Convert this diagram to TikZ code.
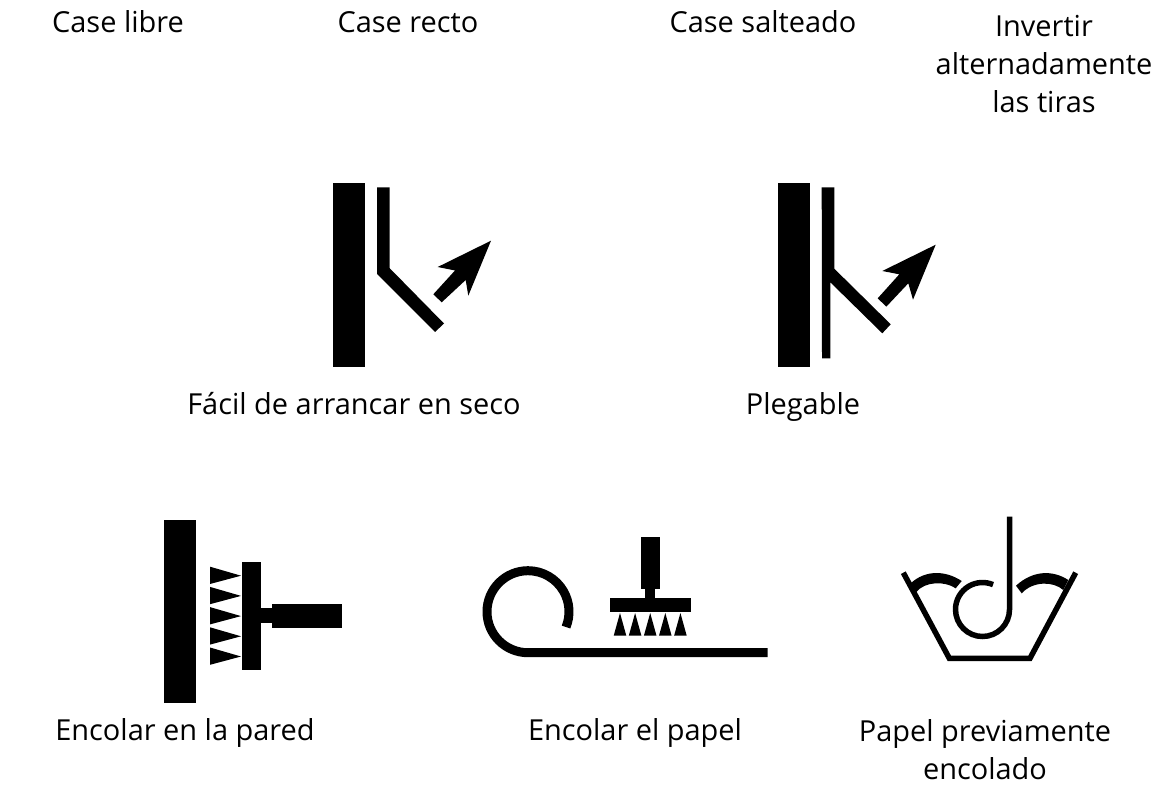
\documentclass[tikz,border=0pt]{standalone}
\usepackage{fontspec}
\setmainfont{Open Sans}
\usetikzlibrary{positioning}
\tikzset{
  caption/.style={anchor=base,inner sep=0pt,align=center,font=\fontsize{21.7}{28.5}\selectfont},
  solid black/.style={fill=black,draw=none},
  stroke/.style={draw=black,fill=none,line width=#1*0.75pt,line cap=butt,line join=miter}
}
\begin{document}
\begin{tikzpicture}[x=1pt,y=1pt,xscale=.75,yscale=-.75]
\useasboundingbox (0,0) rectangle (1156,787);
\node[caption] (libre) at (118,33) {Case libre};
\node[caption] (recto) at (408,33) {Case recto};
\node[caption] (salteado) at (763,33) {Case salteado};
\node[caption] (invertir) at (1044,113) {Invertir\\alternadamente\\las tiras};
\node[caption] (seco) at (354,415) {Fácil de arrancar en seco};
\node[caption] (plegable) at (803,415) {Plegable};
\node[caption] (pared) at (185,740) {Encolar en la pared};
\node[caption] (papel) at (635,740) {Encolar el papel};
\node[caption] (previo) at (985,779) {Papel previamente\\encolado};
% arrancar en seco
\fill[solid black] (333,183) rectangle (365,367);
\fill[solid black] (377,187.5) -- (389.5,187.5) -- (389.5,268) -- (444,323.5) -- (435,332) -- (377,274) -- cycle;
\fill[solid black] (433.3,294.3) -- (455,270.5) -- (437.7,267) -- (491,240.7) -- (468.3,295.7) -- (465.7,280) -- (441.7,302.3) -- cycle;
% plegable
\fill[solid black] (778,183) rectangle (809.5,367);
\fill[solid black] (821.7,187.5) -- (834.3,187.5) -- (834.3,268.7) -- (890.7,324.3) -- (882.3,333.3) -- (830.3,282.3) -- (830.3,358.3) -- (822,358.3) -- cycle;
\fill[solid black] (877.7,298.3) -- (899.3,274.3) -- (882.3,271) -- (935.7,244.7) -- (913,299.7) -- (908.3,283.3) -- (886.3,306.7) -- cycle;
% encolar en la pared
\fill[solid black] (164.3,520) rectangle (196,703.3);
\fill[solid black] (241.7,562) rectangle (260.7,670.3);
\fill[solid black] (260.7,608.3) rectangle (272.3,622.7);
\fill[solid black] (272.3,604) rectangle (341.7,628.3);
\foreach \n in {0,...,4}
  \fill[solid black] (210,566.7+\n*20.2) -- (241,575.7+\n*20.2) -- (210,584+\n*20.2) -- cycle;
% encolar el papel
\draw[stroke=9] (767.7,652.7) -- (528,652.7) arc[start angle=90,end angle=382,radius=41];
\fill[solid black] (641.3,537.3) rectangle (659.7,589);
\fill[solid black] (644.7,589) rectangle (655.3,598);
\fill[solid black] (609.7,597.7) rectangle (691.3,612.3);
\foreach \n in {0,...,4}
  \fill[solid black] (613.7+\n*15.1,635.7) -- (620+\n*15.1,613) -- (626.3+\n*15.1,635.7) -- cycle;
% papel previamente encolado
\draw[stroke=5.5] (903.3,572.7) -- (949.3,658.3) -- (1030,658.3) -- (1075.7,572.7);
\draw[stroke=5.5] (1009.5,516.7) -- (1009.5,609.5) arc[start angle=0,end angle=293,radius=27];
\fill[solid black] (910.7,583.3) .. controls (925,570) and (945,570) .. (961.7,581) -- (955.7,588.3) .. controls (945,581) and (925,581) .. (916,592.3) -- cycle;
\fill[solid black] (1016,585.7) .. controls (1033,570) and (1053,570) .. (1068.3,580) -- (1063.3,590) .. controls (1053,581) and (1033,581) .. (1021.7,593.3) -- cycle;
\end{tikzpicture}
\end{document}
